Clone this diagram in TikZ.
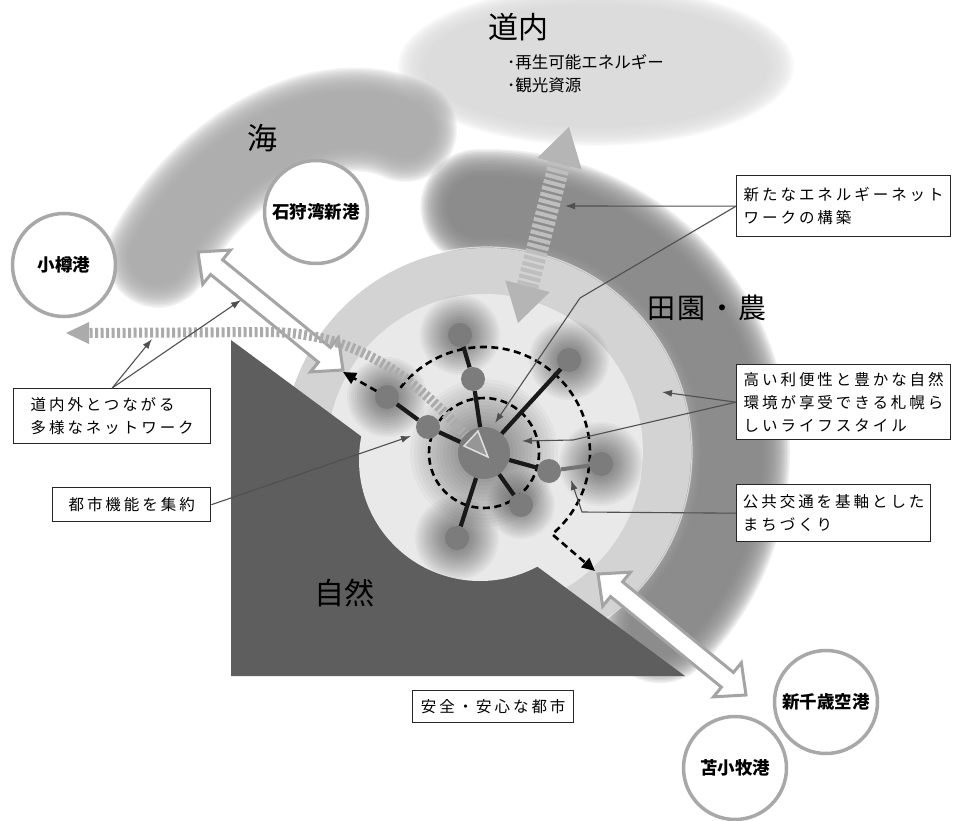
\documentclass[tikz,border=0pt]{standalone}
\usepackage{fontspec}
\newfontfamily\jp{Noto Sans CJK JP}
\newfontfamily\jpsp[LetterSpace=19]{Noto Sans CJK JP}
\newfontfamily\jpwide[LetterSpace=8]{Noto Sans CJK JP}
\usetikzlibrary{calc,arrows.meta}

\definecolor{ringc}{HTML}{D3D3D3}
\definecolor{innerc}{HTML}{E9E9E9}
\definecolor{natc}{HTML}{5E5E5E}
\definecolor{nodec}{HTML}{7C7C7C}
\definecolor{bandc}{HTML}{868686}
\definecolor{seac}{HTML}{ABABAB}
\definecolor{doc}{HTML}{DCDCDC}
\definecolor{portc}{HTML}{A8A8A8}
\definecolor{stripec}{HTML}{ABABAB}
\definecolor{vstripec}{HTML}{BEBEBE}
\definecolor{callc}{HTML}{505050}
\definecolor{arrc}{HTML}{A4A4A4}

\newcommand\halo[3]{\foreach \k in {1,...,20}{\fill[black,opacity=#3] (#1) circle[radius={#2*\k/20}];}}
\newcommand\dblarr[3][]{%
  \coordinate (ha) at ($(#2)!24pt!(#3)$);
  \coordinate (hb) at ($(#3)!24pt!(#2)$);
  \filldraw[#1] (#2) -- ($(ha)!22pt!90:(#3)$) -- ($(ha)!9.5pt!90:(#3)$) -- ($(hb)!9.5pt!-90:(#2)$) -- ($(hb)!22pt!-90:(#2)$) -- (#3) -- ($(hb)!22pt!90:(#2)$) -- ($(hb)!9.5pt!90:(#2)$) -- ($(ha)!9.5pt!-90:(#3)$) -- ($(ha)!22pt!-90:(#3)$) -- cycle;}

\tikzset{
  box/.style={draw=black!85, line width=1.4, fill=white, inner xsep=4, inner ysep=2, align=left, anchor=north west, font=\jpsp\fontsize{15.5}{23}\selectfont},
  port/.style={circle, draw=portc, line width=3.5, fill=white, minimum size=103, inner sep=0, font=\jp\bfseries\fontsize{17.5}{20}\selectfont},
  biglabel/.style={font=\jp\fontsize{30}{32}\selectfont, inner sep=0},
  netnode/.style={circle, fill=nodec, minimum size=24, inner sep=0},
  hub/.style={circle, fill=nodec, minimum size=52, inner sep=0},
  netline/.style={line width=4.2, black!90},
  dashcirc/.style={line width=2.6, dash pattern=on 7pt off 4.5pt},
  dasharrow/.style={dashcirc, -{Triangle[length=13pt,width=12pt]}},
  call/.style={draw=callc, line width=1.1, -{Latex[length=10pt,width=7pt]}},
  wharrow/.style={fill=white, draw=arrc, line width=3, line join=miter},
}

\begin{document}
\begin{tikzpicture}[x=1pt,y=-1pt]
\useasboundingbox (0,0) rectangle (953,821);
\fill[white] (0,0) rectangle (953,821);

% 道内 region
\foreach \i in {0,...,19}{\fill[doc,opacity=0.12] (596,66) ellipse[x radius={198-1.7*\i}, y radius={80-1.2*\i}];}
% 海 band
\foreach \i in {0,...,19}{\pgfmathsetmacro\mylw{104-2.6*\i}\draw[seac,opacity=0.12,line width=\mylw pt,line cap=round] (158,256) .. controls (215,150) and (330,95) .. (405,130);}
% 田園・農 band
\foreach \i in {0,...,19}{\pgfmathsetmacro\mylw{116-3*\i}\draw[bandc,opacity=0.12,line width=\mylw pt,line cap=round] ([shift={(-92:245)}]487,452) arc[start angle=-92,end angle=45,radius=245];}

% rings
\fill[ringc] (487,452) circle[radius=204];
\draw[white,opacity=0.6,line width=1.2] (487,452) circle[radius=205];
\fill[innerc] (485,452) circle[radius=158];
% nature
\fill[natc] (231,340) -- (231,676) -- (685,676) -- cycle;
\fill[innerc] (480,460) circle[radius=121];

% halos
\halo{484,453}{74}{0.028}
\halo{460,335}{40}{0.032}
\halo{387,397}{40}{0.032}
\halo{569,360}{40}{0.032}
\halo{601,464}{42}{0.032}
\halo{457,538}{42}{0.032}
\halo{521,505}{34}{0.026}

% dashed circles
\coordinate (ctrpt) at (484,453);
\draw[dashcirc] (ctrpt) circle[radius=55];
\coordinate (dtipR) at (595,571);
\draw[dasharrow] ([shift={(-142:106)}]ctrpt) arc[start angle=-142,end angle=50,radius=106] -- (dtipR);

% white double arrow (upper left)
\coordinate (wa1) at (198,252); \coordinate (wb1) at (343,370);
\dblarr[wharrow]{wa1}{wb1}

% striped curved arrow
\draw[stripec,line width=10,dash pattern=on 3pt off 2.5pt] (470,440) .. controls (400,360) and (340,333) .. (270,332) -- (88,333);
\coordinate (stipL) at (66,333);
\fill[stripec] (stipL) -- (89,322) -- (89,344) -- cycle;

% network
\node[hub] (c) at (ctrpt) {};
\node[netnode] (n1) at (460,335) {};
\node[netnode] (n2) at (473,379) {};
\node[netnode] (n3) at (387,397) {};
\node[netnode] (n4) at (428,427) {};
\node[netnode] (n5) at (569,360) {};
\node[netnode] (n6) at (549,471) {};
\node[netnode] (n7) at (601,464) {};
\node[netnode] (n8) at (521,505) {};
\node[netnode] (n9) at (457,538) {};
\draw[netline] (c) -- (n2); \draw[netline] (n2) -- (n1);
\draw[netline] (c) -- (n4); \draw[netline] (n4) -- (n3);
\draw[netline] (c) -- (n5);
\draw[netline] (c) -- (n6);
\draw[line width=4,black!55] (n6) -- (n7);
\draw[netline] (c) -- (n8);
\draw[netline] (c) -- (n9);
\filldraw[fill=nodec!80!white,draw=white!75!gray,line width=1.5] (488,457) -- (464,446) -- (478,431) -- cycle;
\coordinate (dtipL) at (343,372);
\draw[dasharrow] (n3) -- (dtipL);

% vertical striped arrow
\coordinate (va) at (518,323); \coordinate (vb) at (569,127);
\coordinate (vab) at ($(va)!38pt!(vb)$); \coordinate (vbb) at ($(vb)!38pt!(va)$);
\draw[vstripec,line width=22,dash pattern=on 4pt off 2.5pt] (vab) -- (vbb);
\fill[vstripec!95!black] (va) -- ($(vab)!23pt!90:(vb)$) -- ($(vab)!23pt!-90:(vb)$) -- cycle;
\fill[vstripec!95!black] (vb) -- ($(vbb)!23pt!90:(va)$) -- ($(vbb)!23pt!-90:(va)$) -- cycle;

% white double arrow (lower right)
\coordinate (wa2) at (598,574); \coordinate (wb2) at (746,695);
\dblarr[wharrow]{wa2}{wb2}

% ports
\node[port] (otaru) at (64,265) {小樽港};
\node[port] (ishikari) at (316,212) {石狩湾新港};
\node[port] (chitose) at (826,702) {新千歳空港};
\node[port] (tomakomai) at (735,768) {苫小牧港};

% area labels
\node[biglabel] (dounai) at (518,27) {道内};
\node[anchor=west,inner sep=0,align=left,font=\jp\fontsize{16.5}{23}\selectfont] (res) at (507,74) {･再生可能エネルギー\\･観光資源};
\node[biglabel] (umi) at (262,138) {海};
\node[biglabel,font=\jpwide\fontsize{28}{30}\selectfont] (den) at (707,308) {田園・農};
\node[biglabel] (shizen) at (344,593) {自然};

% boxes
\node[box,minimum width=214,minimum height=61] (b1) at (736,175) {新たなエネルギーネット\\ワークの構築};
\node[box,minimum width=214,minimum height=75] (b2) at (736,364) {高い利便性と豊かな自然\\環境が享受できる札幌ら\\しいライフスタイル};
\node[box,minimum width=194,minimum height=57] (b3) at (736,484) {公共交通を基軸とした\\まちづくり};
\node[box,minimum width=197,minimum height=55] (b4) at (13,388) {道内外とつながる\\多様なネットワーク};
\node[box,minimum width=158,minimum height=34] (b5) at (52,487) {都市機能を集約};
\node[box,minimum width=161,minimum height=32] (b6) at (412,690) {安全・安心な都市};

% callouts
\coordinate (t4a) at (152,339); \coordinate (t4b) at (241,300);
\draw[call] (b4.north) -- (t4a);
\draw[call] (b4.north) -- (t4b);
\coordinate (t5) at (411,436);
\draw[call] (b5.east) -- (t5);
\coordinate (t1a) at (565,206); \coordinate (t1b) at (495,423); \coordinate (k1) at (580,298);
\draw[call] (b1.west) -- (t1a);
\draw[call] (b1.west) -- (k1) -- (t1b);
\coordinate (t2a) at (662,392); \coordinate (t2b) at (522,441); \coordinate (k2) at (573,440);
\draw[call] (b2.west) -- (t2a);
\draw[call] (b2.west) -- (k2) -- (t2b);
\coordinate (t3) at (571,480); \coordinate (k3) at (582,512);
\draw[call] (b3.west) -- (k3) -- (t3);
\end{tikzpicture}
\end{document}
